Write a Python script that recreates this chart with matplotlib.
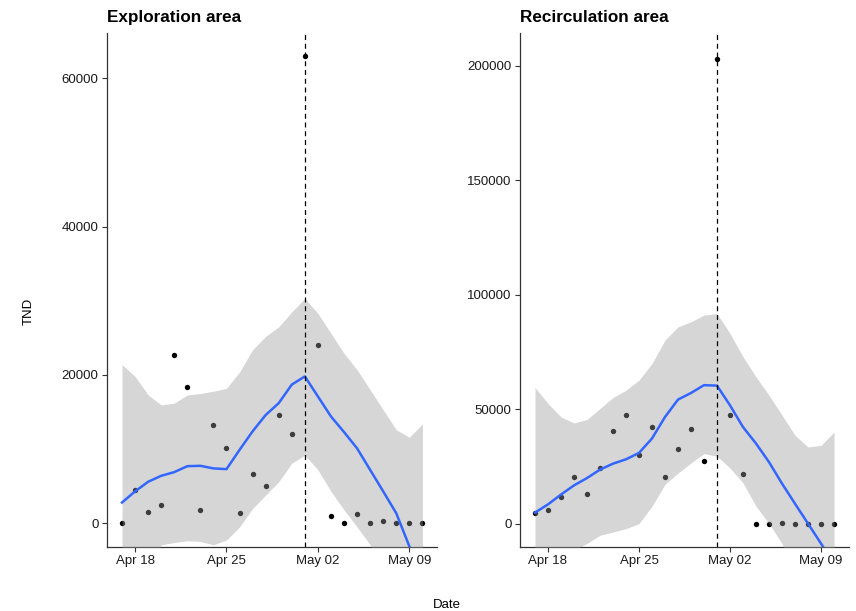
import numpy as np
import pandas as pd
import matplotlib
matplotlib.use("Agg")
import matplotlib.pyplot as plt
import matplotlib.dates as mdates

plt.rcParams['font.family'] = ['Liberation Sans', 'DejaVu Sans']

dates = pd.date_range("2021-04-17", "2021-05-10", freq="D")
event_date = pd.Timestamp("2021-05-01")

# Exploration area
expl_tnd = [0, 4500, 1500, 2500, 22700, 18400, 1800, 13200, 10200, 1400, 6600, 5000,
            14600, 12100, 63000, 24100, 1000, 100, 1300, 0, 350, 0, 0, 0]
expl_fit = [2800, 4300, 5600, 6400, 6900, 7700, 7750, 7400, 7300, 9900, 12400, 14600,
            16200, 18700, 19800, 17100, 14400, 12300, 10100, 7200, 4300, 1350, -3100, -7500]
expl_upper = [21400, 19800, 17300, 15950, 16200, 17300, 17500, 17800, 18200, 20400, 23400, 25200,
              26500, 28500, 30300, 28300, 25600, 22900, 20700, 18000, 15300, 12600, 11600, 13400]
expl_lower = [-15700, -11200, -6100, -2900, -2600, -2350, -2450, -2900, -2250, -500, 2000, 3800,
              5600, 8100, 9200, 7200, 4300, 1800, -500, -2900, -6800, -9900, -17900, -28000]

# Recirculation area
recirc_tnd = [4600, 5800, 11500, 20200, 13100, 24500, 40400, 47400, 30200, 42400, 20500, 32600,
              41500, 27200, 203000, 47500, 21900, 0, 0, 300, 0, 0, 0, 0]
recirc_fit = [4800, 8400, 12700, 16700, 19900, 23600, 26200, 28100, 30900, 37200, 46600, 54200,
              57100, 60500, 60300, 51700, 42200, 35000, 26900, 17500, 8700, 0, -8700, -18000]
recirc_upper = [59500, 52500, 46600, 44000, 45500, 50300, 55100, 58300, 62700, 70000, 80200, 86000,
                88200, 91100, 91800, 83100, 72900, 64100, 56100, 47400, 38600, 33500, 34200, 40000]
recirc_lower = [-49900, -35600, -21300, -11500, -8700, -5100, -3700, -2200, 0, 7600, 17200, 22100,
                26500, 30600, 29400, 24300, 17800, 7600, 0, -8700, -21000, -33500, -51600, -76000]

panels = [
    ("Exploration area", expl_tnd, expl_fit, expl_upper, expl_lower,
     [0, 20000, 40000, 60000], (-3200, 66100), [0.125, 0.1047, 0.386, 0.8413]),
    ("Recirculation area", recirc_tnd, recirc_fit, recirc_upper, recirc_lower,
     [0, 50000, 100000, 150000, 200000], (-10230, 214400), [0.6075, 0.1047, 0.3843, 0.8413]),
]

fig = plt.figure(figsize=(8.56, 6.11), dpi=100)
x_lo = dates[0] - pd.Timedelta(hours=27.6)
x_hi = dates[-1] + pd.Timedelta(hours=27.6)

for title, tnd, fit, upper, lower, yticks, ylim, pos in panels:
    ax = fig.add_axes(pos)
    # points first, grey ribbon on top (gives the darker grey dots inside the band)
    ax.scatter(dates, tnd, s=15, color="black", zorder=2, linewidths=0)
    ax.fill_between(dates, lower, upper, color="#999999", alpha=0.4, linewidth=0, zorder=3)
    ax.plot(dates, fit, color="#3366FF", lw=1.8, zorder=4, solid_joinstyle="round")
    ax.axvline(event_date, color="black", ls=(0, (4, 3)), lw=0.9, zorder=5)

    ax.set_xlim(x_lo, x_hi)
    ax.set_ylim(*ylim)
    ax.set_yticks(yticks)
    ax.set_yticklabels([str(v) for v in yticks])
    ax.set_xticks(pd.to_datetime(["2021-04-18", "2021-04-25", "2021-05-02", "2021-05-09"]))
    ax.xaxis.set_major_formatter(mdates.DateFormatter("%b %d"))

    for s in ["top", "right"]:
        ax.spines[s].set_visible(False)
    for s in ["left", "bottom"]:
        ax.spines[s].set_color("#333333")
        ax.spines[s].set_linewidth(0.9)
    ax.tick_params(direction="out", length=3.5, width=0.8, color="#333333",
                   labelsize=9.5, labelcolor="#1a1a1a", pad=2.5)
    ax.set_title(title, loc="left", fontsize=12.3, fontweight="bold", pad=8)

fig.text(0.034, 0.49, "TND", rotation=90, ha="center", va="center", fontsize=9.5)
fig.text(0.522, 0.0, "Date", ha="center", va="bottom", fontsize=9.5)

fig.savefig("out.png", dpi=100)
